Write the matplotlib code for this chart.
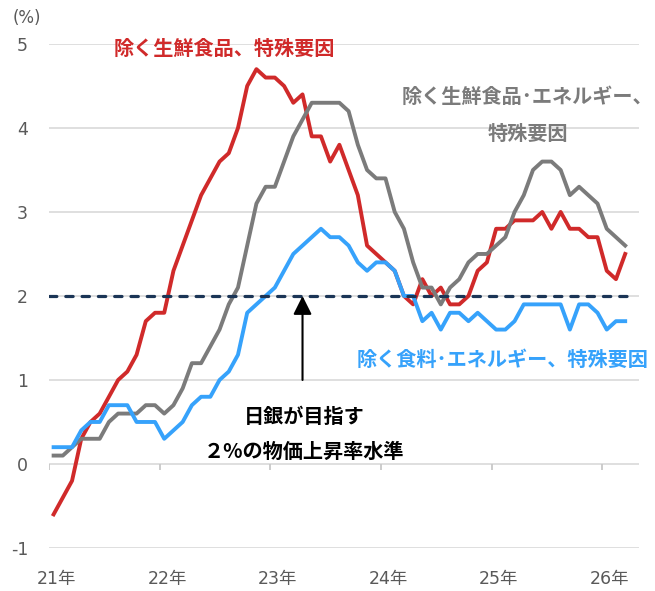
import matplotlib
matplotlib.use("Agg")
import matplotlib.pyplot as plt
import numpy as np

plt.rcParams['font.family'] = ['Noto Sans CJK JP', 'DejaVu Sans']
plt.rcParams['axes.unicode_minus'] = False

# ---- data (monthly, Jan 2021 - Mar 2026, y/y %) ----
YEAR_LABELS = ['21年', '22年', '23年', '24年', '25年', '26年']

core_ex_fresh = [
    -0.6, -0.4, -0.2, 0.3, 0.5, 0.6, 0.8, 1.0, 1.1, 1.3, 1.7, 1.8,
    1.8, 2.3, 2.6, 2.9, 3.2, 3.4, 3.6, 3.7, 4.0, 4.5, 4.7, 4.6,
    4.6, 4.5, 4.3, 4.4, 3.9, 3.9, 3.6, 3.8, 3.5, 3.2, 2.6, 2.5,
    2.4, 2.3, 2.0, 1.9, 2.2, 2.0, 2.1, 1.9, 1.9, 2.0, 2.3, 2.4,
    2.8, 2.8, 2.9, 2.9, 2.9, 3.0, 2.8, 3.0, 2.8, 2.8, 2.7, 2.7,
    2.3, 2.2, 2.5,
]
core_ex_fresh_energy = [
    0.1, 0.1, 0.2, 0.3, 0.3, 0.3, 0.5, 0.6, 0.6, 0.6, 0.7, 0.7,
    0.6, 0.7, 0.9, 1.2, 1.2, 1.4, 1.6, 1.9, 2.1, 2.6, 3.1, 3.3,
    3.3, 3.6, 3.9, 4.1, 4.3, 4.3, 4.3, 4.3, 4.2, 3.8, 3.5, 3.4,
    3.4, 3.0, 2.8, 2.4, 2.1, 2.1, 1.9, 2.1, 2.2, 2.4, 2.5, 2.5,
    2.6, 2.7, 3.0, 3.2, 3.5, 3.6, 3.6, 3.5, 3.2, 3.3, 3.2, 3.1,
    2.8, 2.7, 2.6,
]
core_ex_food_energy = [
    0.2, 0.2, 0.2, 0.4, 0.5, 0.5, 0.7, 0.7, 0.7, 0.5, 0.5, 0.5,
    0.3, 0.4, 0.5, 0.7, 0.8, 0.8, 1.0, 1.1, 1.3, 1.8, 1.9, 2.0,
    2.1, 2.3, 2.5, 2.6, 2.7, 2.8, 2.7, 2.7, 2.6, 2.4, 2.3, 2.4,
    2.4, 2.3, 2.0, 2.0, 1.7, 1.8, 1.6, 1.8, 1.8, 1.7, 1.8, 1.7,
    1.6, 1.6, 1.7, 1.9, 1.9, 1.9, 1.9, 1.9, 1.6, 1.9, 1.9, 1.8,
    1.6, 1.7, 1.7,
]
TARGET = 2.0

LABEL_RED = '除く生鮮食品、特殊要因'
LABEL_GRAY_1 = '除く生鮮食品･エネルギー、'
LABEL_GRAY_2 = '特殊要因'
LABEL_BLUE = '除く食料･エネルギー、特殊要因'
NOTE_1 = '日銀が目指す'
NOTE_2 = '２%の物価上昇率水準'

# ---- styles ----
RED = '#d02a2a'
GRAY = '#7b7b7b'
BLUE = '#36a2fb'
NAVY = '#1b3556'
GRID = '#d9d9d9'
TICK_TXT = '#595959'
TICK_FONT = ['DejaVu Sans', 'Noto Sans CJK JP']

fig = plt.figure(figsize=(6.55, 5.91), dpi=100)
ax = fig.add_axes([0.0748, 0.0728, 0.9008, 0.8528])

x = np.arange(len(core_ex_fresh))
lw = 2.8
ax.plot(x, core_ex_fresh, color=RED, lw=lw, zorder=3, solid_joinstyle='round')
ax.plot(x, core_ex_fresh_energy, color=GRAY, lw=lw, zorder=4, solid_joinstyle='round')
ax.plot(x, core_ex_food_energy, color=BLUE, lw=lw, zorder=5, solid_joinstyle='round')

ax.axhline(TARGET, xmin=0.0, xmax=0.985, color=NAVY, lw=2.3,
           linestyle=(0, (2.3, 2.8)), dash_capstyle='round', zorder=6)

ax.set_xlim(-0.5, 63.5)
ax.set_ylim(-1, 5)
ax.set_yticks(range(-1, 6))
ax.yaxis.grid(True, color=GRID, lw=1.2, zorder=0)
ax.set_axisbelow(True)
for s in ax.spines.values():
    s.set_visible(False)
ax.tick_params(axis='y', length=0, pad=15, labelsize=12.5, labelcolor=TICK_TXT)

year_starts = np.arange(len(YEAR_LABELS)) * 12
ax.set_xticks(year_starts + 0.3)
ax.set_xticklabels(YEAR_LABELS)
ax.tick_params(axis='x', length=0, pad=16, labelsize=12.5, labelcolor=TICK_TXT)
for lab in ax.get_xticklabels() + ax.get_yticklabels():
    lab.set_family(TICK_FONT)
# category tick marks on the zero line
ax.vlines(year_starts - 0.5, 0, -0.07, color='#c8c8c8', lw=1.3, zorder=1)

fig.text(13 / 655, 1 - 18 / 591, '(%)', fontsize=12, color=TICK_TXT,
         ha='left', va='center', family=TICK_FONT)

tb = dict(fontsize=14.5, fontweight='bold', ha='center', va='center')
ax.text(18.5, 4.95, LABEL_RED, color=RED, **tb)
ax.text(51.4, 4.37, LABEL_GRAY_1, color=GRAY, **tb)
ax.text(51.4, 3.94, LABEL_GRAY_2, color=GRAY, **tb)
ax.text(48.7, 1.24, LABEL_BLUE, color=BLUE, **tb)
ax.text(27.2, 0.56, NOTE_1, color='black', **tb)
ax.text(27.2, 0.15, NOTE_2, color='black', **tb)

ax.annotate('', xy=(27.0, TARGET), xytext=(27.0, 1.0),
            arrowprops=dict(arrowstyle='-|>,head_length=0.8,head_width=0.4',
                            mutation_scale=14, lw=1.5, color='black',
                            shrinkA=0, shrinkB=0), zorder=7)

fig.savefig('out.png', dpi=100)
